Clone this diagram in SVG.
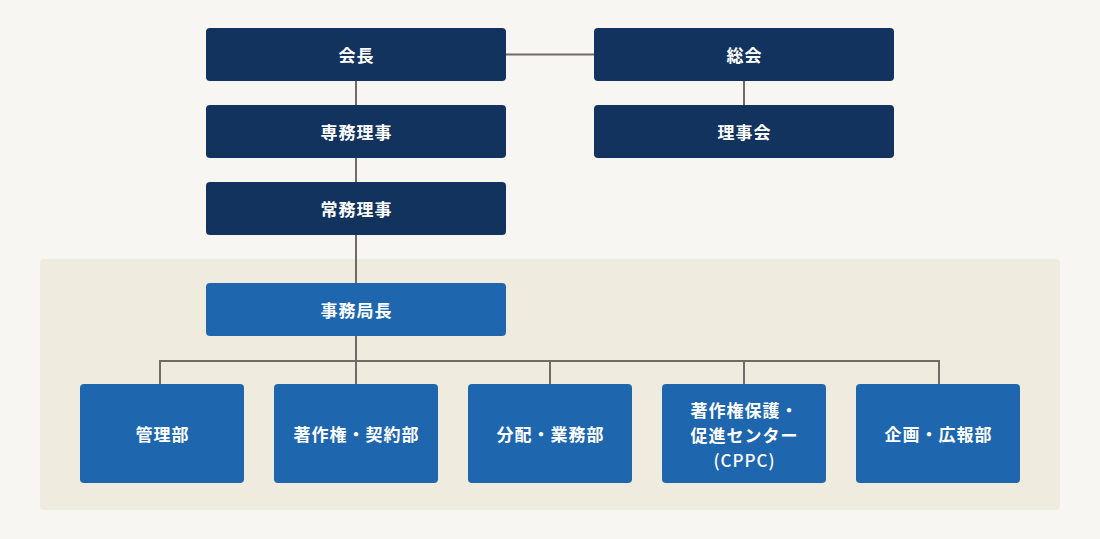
<svg xmlns="http://www.w3.org/2000/svg" width="1100" height="539" viewBox="0 0 1100 539">
<style>
.bg{fill:#f7f6f2}
.panel{fill:#efebdf}
.dark{fill:#11335e}
.blue{fill:#1e66ae}
.lbl{fill:#ffffff;font-family:"Noto Sans CJK JP","Noto Sans",sans-serif;font-weight:700;font-size:17px;letter-spacing:1px;text-anchor:middle;dominant-baseline:central}
.con{fill:none;stroke:#6f6c67;stroke-width:2}
</style>
<rect class="bg" x="0" y="0" width="1100" height="539"/>
<rect class="panel" x="40" y="259" width="1020" height="251" rx="4"/>
<g id="connectors">
<path class="con" d="M506 54.5H594"/>
<path class="con" d="M744 81V105"/>
<path class="con" d="M356 81V105M356 158V182M356 235V283M356 336V384"/>
<path class="con" d="M160 384V361H939V384"/>
<path class="con" d="M550 361V384M744 361V384"/>
</g>
<g id="n-kaicho"><rect class="dark" x="206" y="28" width="300" height="53" rx="4"/><text class="lbl" x="356.5" y="54.5">会長</text></g>
<g id="n-sokai"><rect class="dark" x="594" y="28" width="300" height="53" rx="4"/><text class="lbl" x="744.5" y="54.5">総会</text></g>
<g id="n-senmu"><rect class="dark" x="206" y="105" width="300" height="53" rx="4"/><text class="lbl" x="356.5" y="131.5">専務理事</text></g>
<g id="n-rijikai"><rect class="dark" x="594" y="105" width="300" height="53" rx="4"/><text class="lbl" x="744.5" y="131.5">理事会</text></g>
<g id="n-jomu"><rect class="dark" x="206" y="182" width="300" height="53" rx="4"/><text class="lbl" x="356.5" y="208.5">常務理事</text></g>
<g id="n-jimukyokucho"><rect class="blue" x="206" y="283" width="300" height="53" rx="4"/><text class="lbl" x="356.5" y="309.5">事務局長</text></g>
<g id="n-kanri"><rect class="blue" x="80" y="384" width="164" height="99" rx="4"/><text class="lbl" x="162.5" y="433.5">管理部</text></g>
<g id="n-keiyaku"><rect class="blue" x="274" y="384" width="164" height="99" rx="4"/><text class="lbl" x="356.5" y="433.5">著作権・契約部</text></g>
<g id="n-bunpai"><rect class="blue" x="468" y="384" width="164" height="99" rx="4"/><text class="lbl" x="550.5" y="433.5">分配・業務部</text></g>
<g id="n-cppc"><rect class="blue" x="662" y="384" width="164" height="99" rx="4"/>
<text class="lbl" x="744.5" y="409">著作権保護・</text>
<text class="lbl" x="744.5" y="434">促進センター</text>
<text class="lbl" x="744.5" y="459" style="font-weight:500">(CPPC)</text></g>
<g id="n-kikaku"><rect class="blue" x="856" y="384" width="164" height="99" rx="4"/><text class="lbl" x="938.5" y="433.5">企画・広報部</text></g>
</svg>
